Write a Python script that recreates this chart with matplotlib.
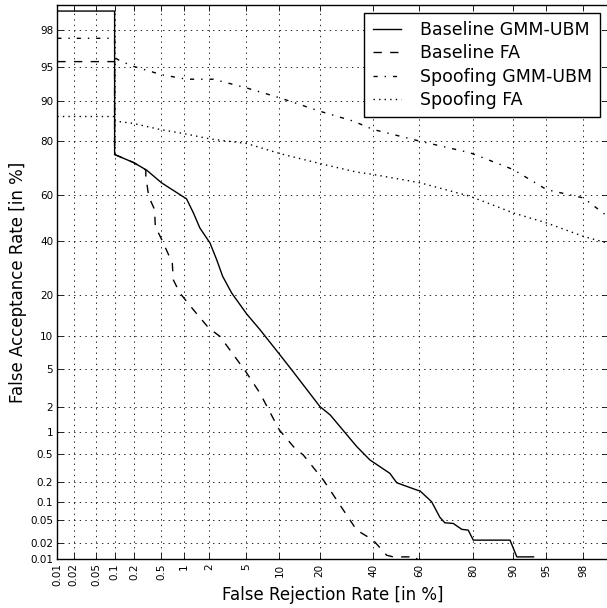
import numpy as np
import matplotlib
matplotlib.use("Agg")
import matplotlib.pyplot as plt
from statistics import NormalDist

# DET curves, values in percent
frr_base_gmm = [0.01, 0.1, 0.1, 0.2, 0.31, 0.5, 1.07, 1.3, 1.56, 2.05, 2.44, 2.84, 3.55,
                5.04, 6.74, 10.1, 12.9, 20.1, 23.4, 33.2, 38.6, 47.2, 50.2, 58.9, 60.3,
                65.1, 68.4, 70.3, 73.4, 76.4, 78.5, 80.1, 89.4, 90.7, 93.4]
far_base_gmm = [98.8, 98.8, 75.6, 72.7, 69.9, 65.0, 58.3, 52.3, 45.7, 39.3, 32.5, 26.3, 20.7,
                14.8, 11.2, 6.8, 4.7, 2.0, 1.6, 0.64, 0.42, 0.27, 0.196, 0.152, 0.147,
                0.0995, 0.0553, 0.0449, 0.0437, 0.0346, 0.0336, 0.0224, 0.0224, 0.0111, 0.0111]

frr_base_fa = [0.01, 0.1, 0.1, 0.2, 0.3, 0.3, 0.33, 0.4, 0.41, 0.53, 0.7, 0.72, 0.88, 1.3,
               1.99, 2.66, 4.93, 6.74, 9.96, 13.3, 15.4, 21.2, 33.2, 40.0, 45.8, 48.7, 58.9, 58.9]
far_base_fa = [95.6, 95.6, 75.6, 72.7, 70.0, 67.6, 59.4, 53.7, 46.4, 39.3, 31.2, 25.1, 20.7, 15.9,
               11.5, 9.85, 4.72, 2.82, 1.05, 0.605, 0.49, 0.215, 0.0336, 0.0224, 0.0119, 0.0111,
               0.0111, 0.01]

frr_spoof_gmm = [0.01, 0.1, 0.1, 0.12, 0.196, 0.503, 1.07, 2.23, 5.04, 10.1, 20.1, 31.8, 40.0,
                 60.3, 79.1, 90.0, 95.05, 98.0, 99.0]
far_spoof_gmm = [97.5, 97.5, 96.0, 95.7, 95.1, 94.1, 93.5, 93.5, 92.2, 90.5, 87.8, 85.5, 83.3,
                 79.9, 76.2, 70.2, 62.2, 58.7, 50.5]

frr_spoof_fa = [0.01, 0.1, 0.101, 0.196, 0.477, 0.97, 2.05, 5.04, 10.1, 20.1, 33.2, 40.0, 60.3,
                79.1, 90.0, 95.05, 98.0, 99.0]
far_spoof_fa = [86.6, 86.6, 85.5, 84.9, 83.3, 82.2, 80.6, 79.2, 75.9, 72.4, 69.2, 68.3, 65.0,
                59.4, 52.3, 47.9, 42.1, 39.2]

ticks = [0.01, 0.02, 0.05, 0.1, 0.2, 0.5, 1, 2, 5, 10, 20, 40, 60, 80, 90, 95, 98]
tick_labels = ["0.01", "0.02", "0.05", "0.1", "0.2", "0.5", "1", "2", "5", "10",
               "20", "40", "60", "80", "90", "95", "98"]

nd = NormalDist()
_ppf = np.vectorize(nd.inv_cdf, otypes=[float])
_cdf = np.vectorize(nd.cdf, otypes=[float])


def fwd(p):
    p = np.clip(np.asarray(p, dtype=float) / 100.0, 1e-9, 1 - 1e-9)
    return _ppf(p)


def inv(z):
    return _cdf(np.asarray(z, dtype=float)) * 100.0


plt.rcParams['lines.scale_dashes'] = False

fig = plt.figure(figsize=(6.07, 6.08), dpi=100)
ax = fig.add_axes([57.3 / 607, 1 - 559.3 / 608, (608.3 - 57.3) / 607, (559.3 - 4.7) / 608])
ax.set_xscale('function', functions=(fwd, inv))
ax.set_yscale('function', functions=(fwd, inv))

ax.plot(frr_base_gmm, far_base_gmm, color='k', lw=1.0, ls='-', label='Baseline GMM-UBM')
ax.plot(frr_base_fa, far_base_fa, color='k', lw=1.0, ls=(0, (6, 6)), label='Baseline FA')
ax.plot(frr_spoof_gmm, far_spoof_gmm, color='k', lw=1.0, ls=(0, (3, 5, 1, 5)),
        label='Spoofing GMM-UBM')
ax.plot(frr_spoof_fa, far_spoof_fa, color='k', lw=1.0, ls=(0, (1, 3)), label='Spoofing FA')

ax.set_xlim(0.01, 99)
ax.set_ylim(0.01, 99)
ax.set_xticks(ticks)
ax.set_xticklabels(tick_labels, rotation=90, fontsize=7.5)
ax.set_yticks(ticks)
ax.set_yticklabels(tick_labels, fontsize=7.5)
ax.minorticks_off()
ax.tick_params(direction='in', top=True, right=True, length=4, width=0.6, pad=3)
ax.grid(True, color='k', ls=(0, (1, 3)), lw=0.6)
for s in ax.spines.values():
    s.set_linewidth(1.0)

ax.set_xlabel('False Rejection Rate [in %]', fontsize=12, labelpad=0)
ax.set_ylabel('False Acceptance Rate [in %]', fontsize=12, labelpad=2)

leg = ax.legend(loc='upper right', fontsize=12.5, fancybox=False, framealpha=1,
                edgecolor='k', labelspacing=0.3, handlelength=1.6, handletextpad=1.1,
                borderpad=0.5, borderaxespad=0.45)
leg.get_frame().set_linewidth(1.0)

fig.savefig('out.png', dpi=100)
